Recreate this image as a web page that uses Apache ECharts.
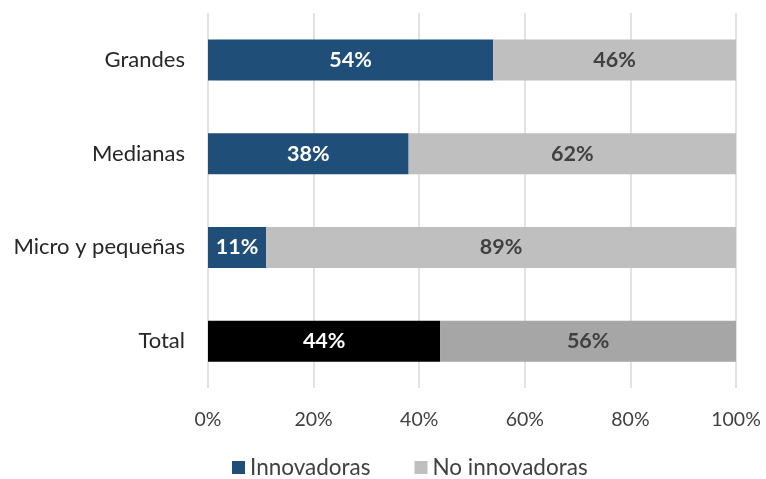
<!DOCTYPE html>
<html><head><meta charset="utf-8">
<script src="https://cdn.jsdelivr.net/npm/echarts@6/dist/echarts.min.js"></script>
<style>html,body{margin:0;padding:0;background:#fff}#c{width:766px;height:479px}</style>
</head><body><div id="c"></div>
<script>
const categories = ['Grandes', 'Medianas', 'Micro y pequeñas', 'Total'];
const innovadoras = [54, 38, 11, 44];
const noInnovadoras = [46, 62, 89, 56];
const xTicks = [0, 20, 40, 60, 80, 100];

const FONT = 'Lato';
const blue = '#1f4e79', grey = '#bfbfbf', black = '#000000', darkGrey = '#a6a6a6';

const catsRev = categories.slice().reverse();
const innRev = innovadoras.slice().reverse();
const noRev = noInnovadoras.slice().reverse();

const chart = echarts.init(document.getElementById('c'), null, {renderer: 'canvas'});
chart.setOption({
  animation: false,
  textStyle: {fontFamily: FONT},
  grid: {left: 208, right: 30, top: 13, bottom: 91, containLabel: false},
  xAxis: {
    type: 'value', min: 0, max: 100, interval: 20,
    axisLine: {show: false}, axisTick: {show: false},
    splitLine: {lineStyle: {color: '#d9d9d9', width: 1.5}},
    axisLabel: {formatter: v => xTicks.includes(v) ? v + '%' : '', color: '#404040', fontSize: 19.5, fontFamily: FONT, margin: 22}
  },
  yAxis: {
    type: 'category', data: catsRev,
    axisLine: {show: false}, axisTick: {show: false},
    axisLabel: {color: '#262626', fontSize: 22, fontFamily: FONT, margin: 23}
  },
  legend: {
    bottom: 0, left: 232, padding: 0, itemWidth: 13, itemHeight: 13, itemGap: 44,
    icon: 'rect',
    textStyle: {color: '#404040', fontSize: 22.5, fontFamily: FONT},
    data: ['Innovadoras', 'No innovadoras']
  },
  series: [
    {
      name: 'Innovadoras', type: 'bar', stack: 's', barWidth: 41,
      itemStyle: {color: blue},
      label: {show: true, position: 'inside', formatter: '{c}%', color: '#fff', fontWeight: 'bold', fontSize: 21.5, fontFamily: FONT},
      data: innRev.map((v, i) => catsRev[i] === 'Total' ? {value: v, itemStyle: {color: black}} : v)
    },
    {
      name: 'No innovadoras', type: 'bar', stack: 's', barWidth: 41,
      itemStyle: {color: grey},
      label: {show: true, position: 'inside', formatter: '{c}%', color: '#404040', fontWeight: 'bold', fontSize: 21.5, fontFamily: FONT},
      data: noRev.map((v, i) => catsRev[i] === 'Total' ? {value: v, itemStyle: {color: darkGrey}} : v)
    }
  ]
});
</script></body></html>
